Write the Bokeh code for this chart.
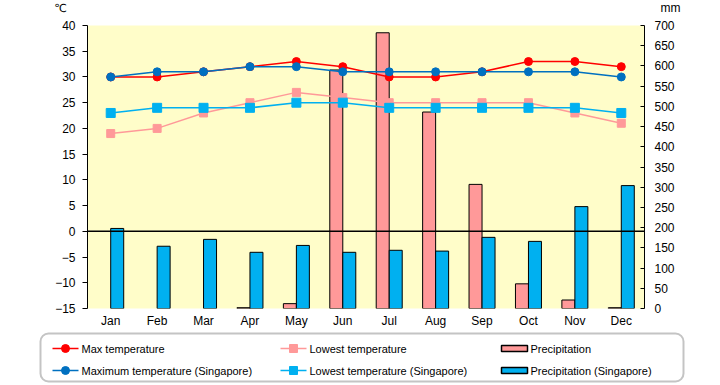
from bokeh.plotting import figure
from bokeh.models import (Range1d, FactorRange, LinearAxis, Span,
                          ColumnDataSource, SingleIntervalTicker)
from bokeh.transform import dodge
from bokeh.core.properties import value
from bokeh.embed import file_html
from bokeh.resources import INLINE

# ---------------- data ----------------
months = ["Jan", "Feb", "Mar", "Apr", "May", "Jun",
          "Jul", "Aug", "Sep", "Oct", "Nov", "Dec"]
max_temp = [30, 30, 31, 32, 33, 32, 30, 30, 31, 33, 33, 32]
low_temp = [19, 20, 23, 25, 27, 26, 25, 25, 25, 25, 23, 21]
precip = [0, 0, 0, 2, 12, 590, 682, 486, 307, 61, 21, 2]
sg_max_temp = [30, 31, 31, 32, 32, 31, 31, 31, 31, 31, 31, 30]
sg_low_temp = [23, 24, 24, 24, 25, 25, 24, 24, 24, 24, 24, 23]
sg_precip = [198, 154, 171, 139, 156, 139, 144, 142, 176, 166, 252, 304]

legend_labels = ["Max temperature", "Lowest temperature", "Precipitation",
                 "Maximum temperature (Singapore)", "Lowest temperature (Singapore)",
                 "Precipitation (Singapore)"]
unit_labels = ["℃", "mm"]

RED = "#FF0000"
PINK = "#FF9999"
BLUE = "#0070C0"
CYAN = "#00B0F0"
FONT = "Liberation Sans"

W = 715
HEAD_H = 16


def bare(fig):
    fig.axis.visible = False
    fig.xgrid.visible = False
    fig.ygrid.visible = False


# ---------------- header with unit labels (page coords) ----------------
hd = figure(width=W, height=HEAD_H, x_range=Range1d(0, W), y_range=Range1d(HEAD_H, 0),
            output_backend="svg", toolbar_location=None, min_border=0,
            outline_line_color=None, background_fill_color="white")
bare(hd)
hd.text(x=[60], y=[8], text=[unit_labels[0]], text_align="center", text_baseline="middle",
        text_font=value("DejaVu Sans"), text_font_size="11px", text_color="black")
hd.text(x=[670], y=[7], text=[unit_labels[1]], text_align="center", text_baseline="middle",
        text_font=value(FONT), text_font_size="12px", text_color="black")

# ---------------- main chart ----------------
p = figure(width=W, height=330 - HEAD_H,
           x_range=FactorRange(*months, range_padding=0),
           y_range=Range1d(-15, 40),
           output_backend="svg", toolbar_location=None,
           min_border_left=87, min_border_right=W - 644,
           min_border_top=25 - HEAD_H, min_border_bottom=20,
           background_fill_color="#FFFDC9", border_fill_color="white",
           outline_line_color=None)
p.extra_y_ranges = {"mm": Range1d(0, 700)}
p.xgrid.visible = False
p.ygrid.visible = False

# left axis
p.yaxis.ticker = SingleIntervalTicker(interval=5, num_minor_ticks=0)
p.yaxis.axis_line_color = "black"
p.yaxis.major_tick_out = 5
p.yaxis.major_tick_in = 0
p.yaxis.minor_tick_line_color = None
p.yaxis.major_label_standoff = 7
p.yaxis.major_label_text_font = FONT
p.yaxis.major_label_text_font_size = "12px"
p.yaxis.major_label_text_color = "black"

# bottom axis
p.xaxis.axis_line_color = None
p.xaxis.major_tick_line_color = None
p.xaxis.major_tick_out = 0
p.xaxis.major_tick_in = 0
p.xaxis.minor_tick_line_color = None
p.xaxis.major_label_standoff = 5
p.xaxis.major_label_text_font = FONT
p.xaxis.major_label_text_font_size = "12px"
p.xaxis.major_label_text_color = "black"

# right axis
ax_r = LinearAxis(y_range_name="mm",
                  ticker=SingleIntervalTicker(interval=50, num_minor_ticks=0))
ax_r.axis_line_color = "black"
ax_r.major_tick_in = 4
ax_r.major_tick_out = 0
ax_r.minor_tick_line_color = None
ax_r.major_label_standoff = 10
ax_r.major_label_text_font = FONT
ax_r.major_label_text_font_size = "12px"
ax_r.major_label_text_color = "black"
p.add_layout(ax_r, "right")

# bars
pm = [m for m, v in zip(months, precip) if v > 0]
pv = [v for v in precip if v > 0]
src_p = ColumnDataSource(dict(month=pm, val=pv))
src_s = ColumnDataSource(dict(month=months, val=sg_precip))
p.vbar(x=dodge("month", -0.14, range=p.x_range), top="val", bottom=0, width=0.28,
       source=src_p, y_range_name="mm", fill_color=PINK, line_color="black", line_width=1)
p.vbar(x=dodge("month", 0.14, range=p.x_range), top="val", bottom=0, width=0.28,
       source=src_s, y_range_name="mm", fill_color=CYAN, line_color="black", line_width=1)

# zero line (category axis crossing)
p.add_layout(Span(location=0, dimension="width", line_color="black", line_width=1.5))

# temperature lines
p.line(months, max_temp, line_color=RED, line_width=1.5)
p.scatter(months, max_temp, marker="circle", size=8, fill_color=RED, line_color=RED)
p.line(months, low_temp, line_color=PINK, line_width=1.5)
p.scatter(months, low_temp, marker="square", size=8, fill_color=PINK, line_color=PINK)
p.line(months, sg_max_temp, line_color=BLUE, line_width=1.5)
p.scatter(months, sg_max_temp, marker="circle", size=8, fill_color=BLUE, line_color=BLUE)
p.line(months, sg_low_temp, line_color=CYAN, line_width=1.5)
p.scatter(months, sg_low_temp, marker="square", size=9, fill_color=CYAN, line_color=CYAN)

# ---------------- legend panel (separate root, page coords) ----------------
lg = figure(width=W, height=54, x_range=Range1d(0, W), y_range=Range1d(384, 330),
            output_backend="svg", toolbar_location=None, min_border=0,
            outline_line_color=None, background_fill_color="white")
bare(lg)

lg.rect(x=[361.5], y=[357], width=[643], height=[48], fill_color="white",
        line_color="#C4C4C4", line_width=2, border_radius=8)

rows = [348, 370]
line_cols = [(52, 78, 65), (280, 306, 293)]
line_styles = [[(RED, "circle"), (BLUE, "circle")],
               [(PINK, "square"), (CYAN, "square")]]
label_idx = [[0, 3], [1, 4]]
for ci, (x0, x1, xm) in enumerate(line_cols):
    for ri, yy in enumerate(rows):
        col, mk = line_styles[ci][ri]
        lg.segment(x0=[x0], y0=[yy], x1=[x1], y1=[yy], line_color=col, line_width=1.5)
        lg.scatter(x=[xm], y=[yy], marker=mk, size=8, fill_color=col, line_color=col)
        lg.text(x=[x1 + 3], y=[yy], text=[legend_labels[label_idx[ci][ri]]],
                text_font=value(FONT), text_font_size="11px", text_baseline="middle",
                text_color="black")
bar_cols = [PINK, CYAN]
for ri, yy in enumerate(rows):
    lg.rect(x=[514], y=[yy], width=[26], height=[6], fill_color=bar_cols[ri],
            line_color="black", line_width=1.5)
    lg.text(x=[530], y=[yy], text=[legend_labels[2 + 3 * ri]],
            text_font=value(FONT), text_font_size="11px", text_baseline="middle",
            text_color="black")

open("out.html", "w").write(file_html([hd, p, lg], INLINE))
